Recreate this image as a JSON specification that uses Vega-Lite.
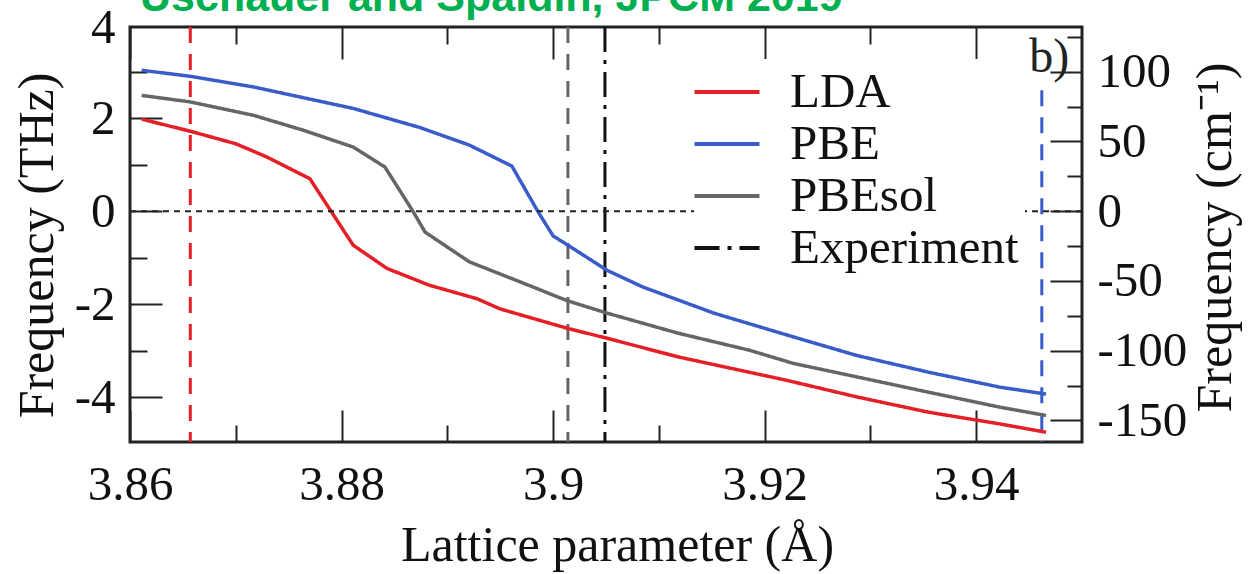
{
  "$schema": "https://vega.github.io/schema/vega-lite/v6.json",
  "width": 952,
  "height": 415,
  "autosize": {"type": "none"},
  "padding": {"left": 130, "top": 27, "right": 172, "bottom": 132},
  "background": "white",
  "config": {
    "font": "Liberation Serif",
    "view": {"stroke": "#222", "strokeWidth": 3},
    "axis": {
      "domain": false, "grid": false, "tickColor": "#222", "tickWidth": 2,
      "labelFont": "Liberation Serif", "labelFontSize": 49, "labelColor": "#111",
      "titleFont": "Liberation Serif", "titleFontSize": 50, "titleFontWeight": "normal", "titleColor": "#111",
      "labelFlush": false, "labelOverlap": false
    },
    "legend": {
      "symbolType": "M-1.3,0H1.3", "symbolSize": 2500, "symbolStrokeWidth": 4,
      "labelFont": "Liberation Serif", "labelFontSize": 49, "labelColor": "#111",
      "labelOffset": 36, "labelLimit": 500, "rowPadding": 0, "padding": 6,
      "fillColor": "white"
    }
  },
  "title": {
    "text": "Uschauer and Spaldin, JPCM 2019",
    "anchor": "start", "frame": "group",
    "font": "Liberation Sans", "fontWeight": "bold", "fontSize": 43,
    "color": "#00b050", "baseline": "alphabetic", "offset": -51, "dx": 10
  },
  "layer": [
    {
      "data": {"values": [
        {"method": "LDA", "a": 3.8657, "top": 3.96, "bottom": -4.96},
        {"method": "PBEsol", "a": 3.9014, "top": 3.96, "bottom": -4.96},
        {"method": "PBE", "a": 3.9462, "top": 2.6, "bottom": -4.96}
      ]},
      "mark": {"type": "rule", "strokeWidth": 3, "strokeDash": [16, 11]},
      "encoding": {
        "x": {"field": "a", "type": "quantitative", "scale": {"domain": [3.86, 3.95], "nice": false, "zero": false},
          "axis": {"orient": "bottom", "values": [3.87, 3.89, 3.91, 3.93], "tickSize": -17, "labels": false, "title": null}},
        "y": {"field": "top", "type": "quantitative", "scale": {"domain": [-4.96, 3.96], "nice": false, "zero": false},
          "axis": {"orient": "left", "values": [-3, -1, 1, 3], "tickSize": -17, "labels": false, "title": null}},
        "y2": {"field": "bottom"},
        "color": {"field": "method", "type": "nominal",
          "scale": {"domain": ["LDA", "PBE", "PBEsol", "Experiment"], "range": ["#e41f26", "#3a5cc9", "#666666", "#111111"]},
          "legend": {"title": null, "orient": "none", "legendX": 564, "legendY": 32}}
      }
    },
    {
      "data": {"values": [{"method": "Experiment", "a": 3.9049}]},
      "mark": {"type": "rule", "strokeWidth": 3},
      "encoding": {
        "x": {"field": "a", "type": "quantitative", "scale": {"domain": [3.86, 3.95], "nice": false, "zero": false},
          "axis": {"orient": "top", "values": [3.86, 3.88, 3.9, 3.92, 3.94], "tickSize": -32, "labels": false, "title": null}},
        "color": {"field": "method", "type": "nominal",
          "scale": {"domain": ["LDA", "PBE", "PBEsol", "Experiment"], "range": ["#e41f26", "#3a5cc9", "#666666", "#111111"]},
          "legend": {"title": null, "orient": "none", "legendX": 564, "legendY": 32}},
        "strokeDash": {"field": "method", "type": "nominal",
          "scale": {"domain": ["LDA", "PBE", "PBEsol", "Experiment"], "range": [[1, 0], [1, 0], [1, 0], [25, 8, 4, 8]]},
          "legend": {"title": null, "orient": "none", "legendX": 564, "legendY": 32}}
      }
    },
    {
      "data": {"values": [
        {"method": "LDA", "a": 3.8611, "f": 1.98},
        {"method": "LDA", "a": 3.8657, "f": 1.72},
        {"method": "LDA", "a": 3.8700, "f": 1.45},
        {"method": "LDA", "a": 3.8729, "f": 1.17},
        {"method": "LDA", "a": 3.8770, "f": 0.70},
        {"method": "LDA", "a": 3.8811, "f": -0.73},
        {"method": "LDA", "a": 3.8843, "f": -1.23},
        {"method": "LDA", "a": 3.8883, "f": -1.59},
        {"method": "LDA", "a": 3.8928, "f": -1.88},
        {"method": "LDA", "a": 3.8950, "f": -2.10},
        {"method": "LDA", "a": 3.9014, "f": -2.52},
        {"method": "LDA", "a": 3.9051, "f": -2.73},
        {"method": "LDA", "a": 3.9118, "f": -3.13},
        {"method": "LDA", "a": 3.9220, "f": -3.63},
        {"method": "LDA", "a": 3.9287, "f": -3.99},
        {"method": "LDA", "a": 3.9355, "f": -4.32},
        {"method": "LDA", "a": 3.9422, "f": -4.57},
        {"method": "LDA", "a": 3.9466, "f": -4.75},
        {"method": "PBE", "a": 3.8611, "f": 3.03},
        {"method": "PBE", "a": 3.8657, "f": 2.90},
        {"method": "PBE", "a": 3.8717, "f": 2.67},
        {"method": "PBE", "a": 3.8811, "f": 2.21},
        {"method": "PBE", "a": 3.8874, "f": 1.80},
        {"method": "PBE", "a": 3.8921, "f": 1.42},
        {"method": "PBE", "a": 3.8961, "f": 0.97},
        {"method": "PBE", "a": 3.8986, "f": -0.02},
        {"method": "PBE", "a": 3.9000, "f": -0.53},
        {"method": "PBE", "a": 3.9014, "f": -0.73},
        {"method": "PBE", "a": 3.9051, "f": -1.27},
        {"method": "PBE", "a": 3.9085, "f": -1.63},
        {"method": "PBE", "a": 3.9152, "f": -2.19},
        {"method": "PBE", "a": 3.9227, "f": -2.70},
        {"method": "PBE", "a": 3.9287, "f": -3.10},
        {"method": "PBE", "a": 3.9355, "f": -3.46},
        {"method": "PBE", "a": 3.9422, "f": -3.78},
        {"method": "PBE", "a": 3.9466, "f": -3.93},
        {"method": "PBEsol", "a": 3.8611, "f": 2.49},
        {"method": "PBEsol", "a": 3.8657, "f": 2.35},
        {"method": "PBEsol", "a": 3.8717, "f": 2.06},
        {"method": "PBEsol", "a": 3.8764, "f": 1.74},
        {"method": "PBEsol", "a": 3.8811, "f": 1.38},
        {"method": "PBEsol", "a": 3.8841, "f": 0.95},
        {"method": "PBEsol", "a": 3.8868, "f": -0.02},
        {"method": "PBEsol", "a": 3.8879, "f": -0.45},
        {"method": "PBEsol", "a": 3.8921, "f": -1.09},
        {"method": "PBEsol", "a": 3.8969, "f": -1.52},
        {"method": "PBEsol", "a": 3.9013, "f": -1.92},
        {"method": "PBEsol", "a": 3.9051, "f": -2.19},
        {"method": "PBEsol", "a": 3.9118, "f": -2.62},
        {"method": "PBEsol", "a": 3.9186, "f": -2.99},
        {"method": "PBEsol", "a": 3.9227, "f": -3.27},
        {"method": "PBEsol", "a": 3.9287, "f": -3.56},
        {"method": "PBEsol", "a": 3.9355, "f": -3.89},
        {"method": "PBEsol", "a": 3.9422, "f": -4.21},
        {"method": "PBEsol", "a": 3.9466, "f": -4.39}
      ]},
      "mark": {"type": "line", "strokeWidth": 3.5},
      "encoding": {
        "x": {"field": "a", "type": "quantitative", "scale": {"domain": [3.86, 3.95], "nice": false, "zero": false},
          "axis": {"orient": "bottom", "values": [3.86, 3.88, 3.9, 3.92, 3.94], "labelExpr": "'' + datum.value",
            "tickSize": -32, "labelPadding": 50, "labelBaseline": "top",
            "title": "Lattice parameter (Å)", "titleX": 487, "titleY": 118, "titleBaseline": "alphabetic", "titleAlign": "center"}},
        "y": {"field": "f", "type": "quantitative", "scale": {"domain": [-4.96, 3.96], "nice": false, "zero": false},
          "axis": {"orient": "left", "values": [-4, -2, 0, 2, 3.96], "labelExpr": "datum.value > 3.9 ? '4' : '' + datum.value",
            "tickSize": -32, "labelPadding": 47,
            "tickOpacity": {"condition": {"test": "datum.value > 3.9", "value": 0}, "value": 1},
            "title": "Frequency (THz)", "titleAngle": 270, "titleX": -78, "titleY": 218, "titleBaseline": "alphabetic", "titleAlign": "center"}},
        "color": {"field": "method", "type": "nominal",
          "scale": {"domain": ["LDA", "PBE", "PBEsol", "Experiment"], "range": ["#e41f26", "#3a5cc9", "#666666", "#111111"]},
          "legend": {"title": null, "orient": "none", "legendX": 564, "legendY": 32}},
        "strokeDash": {"field": "method", "type": "nominal",
          "scale": {"domain": ["LDA", "PBE", "PBEsol", "Experiment"], "range": [[1, 0], [1, 0], [1, 0], [25, 8, 4, 8]]},
          "legend": {"title": null, "orient": "none", "legendX": 564, "legendY": 32}}
      }
    },
    {
      "data": {"values": [{"f": 0}]},
      "mark": {"type": "rule", "color": "#222", "strokeWidth": 1.8, "strokeDash": [6, 5]},
      "encoding": {
        "y": {"field": "f", "type": "quantitative", "scale": {"domain": [-4.96, 3.96], "nice": false, "zero": false},
          "axis": {"orient": "right", "values": [2.998, 1.499, 0, -1.499, -2.998, -4.497],
            "labelExpr": "'' + round(datum.value * 33.356)",
            "tickSize": -32, "labelPadding": 47, "labelAlign": "left",
            "title": "Frequency (cm⁻¹)", "titleAngle": 270, "titleX": 148, "titleY": 210, "titleBaseline": "alphabetic", "titleAlign": "center"}}
      }
    },
    {
      "data": {"values": [{"a": 3.9469, "f": 2.99, "t": "b)"}]},
      "mark": {"type": "text", "font": "Liberation Serif", "fontSize": 48, "color": "#222", "align": "center", "baseline": "alphabetic"},
      "encoding": {
        "x": {"field": "a", "type": "quantitative", "scale": {"domain": [3.86, 3.95], "nice": false, "zero": false},
          "axis": {"orient": "top", "values": [3.87, 3.89, 3.91, 3.93], "tickSize": -17, "labels": false, "title": null}},
        "y": {"field": "f", "type": "quantitative", "scale": {"domain": [-4.96, 3.96], "nice": false, "zero": false},
          "axis": {"orient": "right", "values": [3.7475, 2.2485, 0.7495, -0.7495, -2.2485, -3.7475], "tickSize": -15, "labels": false, "title": null}},
        "text": {"field": "t"}
      }
    }
  ],
  "resolve": {"axis": {"x": "independent", "y": "independent"}}
}
